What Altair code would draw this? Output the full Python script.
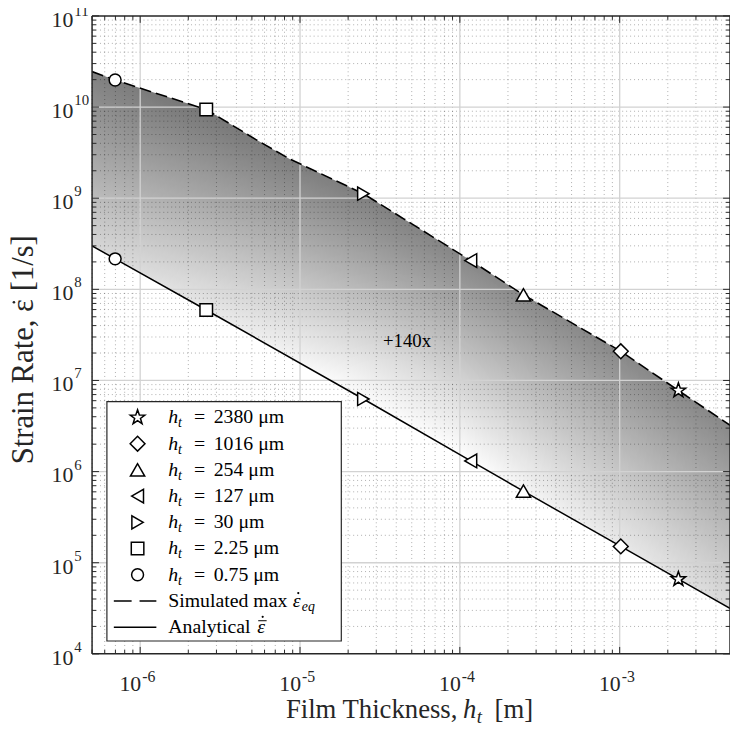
import altair as alt
import pandas as pd
import numpy as np

# ---------------- data ----------------
# simulated max strain rate (dashed curve), x in m, y in 1/s
sim_x = [5.0e-7, 6.97e-7, 2.59e-6, 5.3e-6, 8.6e-6, 2.49e-5, 1.17e-4, 2.5e-4, 1.016e-3, 2.33e-3, 5.0e-3]
sim_y = [2.45e10, 1.98e10, 9.4e9, 4.4e9, 2.7e9, 1.12e9, 2.07e8, 8.7e7, 2.09e7, 7.76e6, 3.15e6]

# analytical strain rate (solid line)
ana_x = [5.0e-7, 6.97e-7, 2.59e-6, 2.49e-5, 1.17e-4, 2.5e-4, 1.016e-3, 2.33e-3, 5.0e-3]
ana_y = [3.0e8, 2.16e8, 5.93e7, 6.26e6, 1.31e6, 6.1e5, 1.51e5, 6.6e4, 3.1e4]

# markers (legend order)
marker_vals = ["2380", "1016", "254", "127", "30", "2.25", "0.75"]
marker_x = [2.33e-3, 1.016e-3, 2.5e-4, 1.17e-4, 2.49e-5, 2.59e-6, 6.97e-7]
marker_y_sim = [7.76e6, 2.09e7, 8.7e7, 2.07e8, 1.12e9, 9.4e9, 1.98e10]
marker_y_ana = [6.6e4, 1.51e5, 6.1e5, 1.31e6, 6.26e6, 5.93e7, 2.16e8]

STAR = "M0,-1L0.235,-0.324L0.951,-0.309L0.380,0.124L0.588,0.809L0,0.4L-0.588,0.809L-0.380,0.124L-0.951,-0.309L-0.235,-0.324Z"
marker_shapes = [STAR, "diamond", "triangle-up", "triangle-left", "triangle-right", "square", "circle"]
marker_sizes = [240, 145, 125, 125, 125, 100, 120]

x_exps = [-6, -5, -4, -3]
y_exps = [4, 5, 6, 7, 8, 9, 10, 11]
minor_mult = [2, 3, 4, 5, 6, 7, 8, 9]

annot_text = ["+140x"]
annot_x = [3.3e-5]
annot_y = [2.7e7]

# ---------------- layout ----------------
W, H = 645, 645
XDOM = [5e-7, 4.9e-3]
YDOM = [1e4, 1e11]
FONT = "Liberation Serif"
INK = "#262626"

xs = alt.Scale(type="log", domain=XDOM)
ys = alt.Scale(type="log", domain=YDOM)


def X(f="x"):
    return alt.X(f"{f}:Q", scale=xs, axis=None)


def Y(f="y"):
    return alt.Y(f"{f}:Q", scale=ys, axis=None, stack=None)


sim_df = pd.DataFrame({"x": sim_x, "y": sim_y})
sim_df["base"] = YDOM[0]
ana_df = pd.DataFrame({"x": ana_x, "y": ana_y})
ana_df["base"] = YDOM[0]
mk_df = pd.DataFrame({"name": marker_vals, "x": marker_x, "ys": marker_y_sim, "ya": marker_y_ana})

x_major = [10.0 ** e for e in x_exps]
y_major = [10.0 ** e for e in y_exps]
x_minor = [m * 10.0 ** e for e in range(-7, -2) for m in minor_mult if XDOM[0] <= m * 10.0 ** e <= XDOM[1]]
y_minor = [m * 10.0 ** e for e in range(4, 11) for m in minor_mult]

xmaj_df = pd.DataFrame({"x": x_major})
ymaj_df = pd.DataFrame({"y": y_major})
xmin_df = pd.DataFrame({"x": x_minor})
ymin_df = pd.DataFrame({"y": y_minor})
one = pd.DataFrame({"a": [0]})

grad = alt.LinearGradient(
    gradient="linear",
    stops=[alt.GradientStop(color="#ffffff", offset=0),
           alt.GradientStop(color="#8a8a8a", offset=1)],
    x1=0.47, y1=0.60, x2=0.63, y2=0.33,
)
shade = alt.RadialGradient(
    gradient="radial",
    stops=[alt.GradientStop(color="rgba(0,0,0,0)", offset=0),
           alt.GradientStop(color="rgba(0,0,0,0.16)", offset=1)],
    x1=0.46, y1=0.62, r1=0.12, x2=0.46, y2=0.62, r2=0.62,
)

layers = []
# gray gradient band (upper curve down to the bottom), then white below analytical line
layers.append(alt.Chart(sim_df).mark_area(fill=grad, opacity=1, clip=True)
              .encode(x=X(), y=Y(), y2=alt.Y2("base:Q")))
layers.append(alt.Chart(sim_df).mark_area(fill=shade, opacity=1, clip=True)
              .encode(x=X(), y=Y(), y2=alt.Y2("base:Q")))
layers.append(alt.Chart(ana_df).mark_area(fill="white", opacity=1, clip=True)
              .encode(x=X(), y=Y(), y2=alt.Y2("base:Q")))

# grids
layers.append(alt.Chart(xmin_df).mark_rule(color="black", opacity=0.32, strokeDash=[1, 3], strokeWidth=1)
              .encode(x=X(), y=alt.value(0), y2=alt.value(H)))
layers.append(alt.Chart(ymin_df).mark_rule(color="black", opacity=0.32, strokeDash=[1, 3], strokeWidth=1)
              .encode(y=Y(), x=alt.value(0), x2=alt.value(W)))
layers.append(alt.Chart(xmaj_df).mark_rule(color="#d2d2d2", strokeWidth=1.3)
              .encode(x=X(), y=alt.value(0), y2=alt.value(H)))
layers.append(alt.Chart(ymaj_df[(ymaj_df.y > YDOM[0]) & (ymaj_df.y < YDOM[1])]).mark_rule(color="#d2d2d2", strokeWidth=1.3)
              .encode(y=Y(), x=alt.value(0), x2=alt.value(W)))

# ticks (inward, all four sides)
for df, L in ((xmaj_df, 7), (xmin_df, 4)):
    layers.append(alt.Chart(df).mark_rule(color=INK, strokeWidth=1).encode(x=X(), y=alt.value(H), y2=alt.value(H - L)))
    layers.append(alt.Chart(df).mark_rule(color=INK, strokeWidth=1).encode(x=X(), y=alt.value(0), y2=alt.value(L)))
for df, L in ((ymaj_df, 7), (ymin_df, 4)):
    layers.append(alt.Chart(df).mark_rule(color=INK, strokeWidth=1).encode(y=Y(), x=alt.value(0), x2=alt.value(L)))
    layers.append(alt.Chart(df).mark_rule(color=INK, strokeWidth=1).encode(y=Y(), x=alt.value(W), x2=alt.value(W - L)))

# curves
layers.append(alt.Chart(sim_df).mark_line(color="black", strokeWidth=1.6, strokeDash=[12, 5], clip=True)
              .encode(x=X(), y=Y()))
layers.append(alt.Chart(ana_df).mark_line(color="black", strokeWidth=1.5, clip=True)
              .encode(x=X(), y=Y()))

shape_enc = alt.Shape("name:N", scale=alt.Scale(domain=marker_vals, range=marker_shapes), legend=None)
size_enc = alt.Size("name:N", scale=alt.Scale(domain=marker_vals, range=marker_sizes), legend=None)
for f in ("ys", "ya"):
    layers.append(alt.Chart(mk_df).mark_point(filled=True, fill="white", stroke="black", strokeWidth=1.5, opacity=1)
                  .encode(x=X(), y=Y(f), shape=shape_enc, size=size_enc))

# annotation
ann_df = pd.DataFrame({"x": annot_x, "y": annot_y, "t": annot_text})
layers.append(alt.Chart(ann_df).mark_text(font=FONT, fontSize=19, align="left", baseline="middle", color="black")
              .encode(x=X(), y=Y(), text="t:N"))

# tick labels
xl_df = pd.DataFrame({"x": x_major, "e": [str(e) for e in x_exps]})
layers.append(alt.Chart(xl_df).mark_text(font=FONT, fontSize=22, align="right", baseline="alphabetic", dx=1, color=INK)
              .encode(x=X(), y=alt.value(H + 38), text=alt.value("10")))
layers.append(alt.Chart(xl_df).mark_text(font=FONT, fontSize=16, align="left", baseline="alphabetic", dx=2, color=INK)
              .encode(x=X(), y=alt.value(H + 28), text="e:N"))
yl_df = pd.DataFrame({"y": y_major, "e": [str(e) for e in y_exps]})
yl_top = yl_df[yl_df.y >= YDOM[1]]
yl_rest = yl_df[yl_df.y < YDOM[1]]
layers.append(alt.Chart(yl_df).mark_text(font=FONT, fontSize=22, align="right", baseline="alphabetic", dy=11, color=INK)
              .encode(y=Y(), x=alt.value(-19), text=alt.value("10")))
layers.append(alt.Chart(yl_rest).mark_text(font=FONT, fontSize=15, align="left", baseline="alphabetic", dy=-2, color=INK)
              .encode(y=Y(), x=alt.value(-18), text="e:N"))
layers.append(alt.Chart(yl_top).mark_text(font=FONT, fontSize=15, align="left", baseline="alphabetic", dy=0.5, color=INK)
              .encode(y=Y(), x=alt.value(-18), text="e:N"))

# axis titles
layers.append(alt.Chart(one).mark_text(font=FONT, fontSize=27, align="left", baseline="alphabetic", color=INK)
              .encode(x=alt.value(196), y=alt.value(H + 65), text=alt.value("Film Thickness,")))
layers.append(alt.Chart(one).mark_text(font=FONT, fontSize=27, fontStyle="italic", align="left", baseline="alphabetic", color=INK)
              .encode(x=alt.value(375), y=alt.value(H + 65), text=alt.value("h")))
layers.append(alt.Chart(one).mark_text(font=FONT, fontSize=19, fontStyle="italic", align="left", baseline="alphabetic", color=INK)
              .encode(x=alt.value(389), y=alt.value(H + 70), text=alt.value("t")))
layers.append(alt.Chart(one).mark_text(font=FONT, fontSize=27, align="left", baseline="alphabetic", color=INK)
              .encode(x=alt.value(407), y=alt.value(H + 65), text=alt.value("[m]")))

YT_SIZE = 31
YT_CENTER = 337.5
layers.append(alt.Chart(one).mark_text(font=FONT, fontSize=YT_SIZE, angle=270, align="center", baseline="alphabetic", color=INK)
              .encode(x=alt.value(-60), y=alt.value(YT_CENTER), text=alt.value("Strain Rate, \u03b5 [1/s]")))
layers.append(alt.Chart(one).mark_circle(color=INK, size=7, opacity=1)
              .encode(x=alt.value(-79), y=alt.value(YT_CENTER + 119 - 160 - 7)))

# frame
layers.append(alt.Chart(one).mark_rule(color=INK, strokeWidth=1.5).encode(x=alt.value(0), x2=alt.value(W), y=alt.value(0)))
layers.append(alt.Chart(one).mark_rule(color=INK, strokeWidth=1.5).encode(x=alt.value(0), x2=alt.value(W), y=alt.value(H)))
layers.append(alt.Chart(one).mark_rule(color=INK, strokeWidth=1.5).encode(x=alt.value(0), y=alt.value(0), y2=alt.value(H)))
layers.append(alt.Chart(one).mark_rule(color=INK, strokeWidth=1.5).encode(x=alt.value(W), y=alt.value(0), y2=alt.value(H)))

# legend box
LX0, LX1, LY0, LY1 = 15, 252, 390, 632
layers.append(alt.Chart(one).mark_rect(fill="white", stroke=INK, strokeWidth=1.2)
              .encode(x=alt.value(LX0), x2=alt.value(LX1), y=alt.value(LY0), y2=alt.value(LY1)))
ROW0, ROWH = 406, 26.5
leg_df = pd.DataFrame({"name": marker_vals,
                       "ly": [ROW0 + i * ROWH for i in range(len(marker_vals))],
                       "lab": [v + " \u03bcm" for v in marker_vals]})
LY = alt.Y("ly:Q", scale=None, axis=None)
layers.append(alt.Chart(leg_df).mark_point(filled=True, fill="white", stroke="black", strokeWidth=1.5, opacity=1)
              .encode(x=alt.value(46), y=LY, shape=shape_enc, size=size_enc))
layers.append(alt.Chart(leg_df).mark_text(font=FONT, fontSize=20, fontStyle="italic", align="left", baseline="alphabetic", dy=6, color="black")
              .encode(x=alt.value(77), y=LY, text=alt.value("h")))
layers.append(alt.Chart(leg_df).mark_text(font=FONT, fontSize=14, fontStyle="italic", align="left", baseline="alphabetic", dy=10, color="black")
              .encode(x=alt.value(87), y=LY, text=alt.value("t")))
layers.append(alt.Chart(leg_df).mark_text(font=FONT, fontSize=20, align="left", baseline="alphabetic", dy=6, color="black")
              .encode(x=alt.value(103), y=LY, text=alt.value("=")))
layers.append(alt.Chart(leg_df).mark_text(font=FONT, fontSize=20, align="left", baseline="alphabetic", dy=6, color="black")
              .encode(x=alt.value(123), y=LY, text="lab:N"))

ly_sim = ROW0 + 7 * ROWH
ly_ana = ROW0 + 8 * ROWH
layers.append(alt.Chart(one).mark_rule(color="black", strokeWidth=1.6, strokeDash=[18, 8])
              .encode(x=alt.value(22), x2=alt.value(65), y=alt.value(ly_sim)))
layers.append(alt.Chart(one).mark_rule(color="black", strokeWidth=1.5)
              .encode(x=alt.value(22), x2=alt.value(65), y=alt.value(ly_ana)))
layers.append(alt.Chart(one).mark_text(font=FONT, fontSize=20, align="left", baseline="alphabetic", color="black")
              .encode(x=alt.value(77), y=alt.value(ly_sim + 6), text=alt.value("Simulated max")))
layers.append(alt.Chart(one).mark_text(font=FONT, fontSize=20, fontStyle="italic", align="left", baseline="alphabetic", color="black")
              .encode(x=alt.value(203), y=alt.value(ly_sim + 6), text=alt.value("\u03b5")))
layers.append(alt.Chart(one).mark_circle(color="black", size=5, opacity=1)
              .encode(x=alt.value(208.5), y=alt.value(ly_sim - 8)))
layers.append(alt.Chart(one).mark_text(font=FONT, fontSize=14, fontStyle="italic", align="left", baseline="alphabetic", color="black")
              .encode(x=alt.value(212), y=alt.value(ly_sim + 10), text=alt.value("eq")))
layers.append(alt.Chart(one).mark_text(font=FONT, fontSize=20, align="left", baseline="alphabetic", color="black")
              .encode(x=alt.value(77), y=alt.value(ly_ana + 6), text=alt.value("Analytical")))
layers.append(alt.Chart(one).mark_text(font=FONT, fontSize=20, fontStyle="italic", align="left", baseline="alphabetic", color="black")
              .encode(x=alt.value(167), y=alt.value(ly_ana + 6), text=alt.value("\u03b5")))
layers.append(alt.Chart(one).mark_rule(color="black", strokeWidth=1)
              .encode(x=alt.value(168), x2=alt.value(176.5), y=alt.value(ly_ana - 6.5)))
layers.append(alt.Chart(one).mark_circle(color="black", size=5, opacity=1)
              .encode(x=alt.value(172.5), y=alt.value(ly_ana - 10.5)))

chart = alt.layer(*layers).properties(
    width=W, height=H,
    autosize=alt.AutoSizeParams(type="none"),
    padding={"left": 85, "top": 4, "right": 0, "bottom": 77},
).configure_view(stroke=None)

chart.save("out.html", embed_options={"renderer": "svg", "actions": False})
